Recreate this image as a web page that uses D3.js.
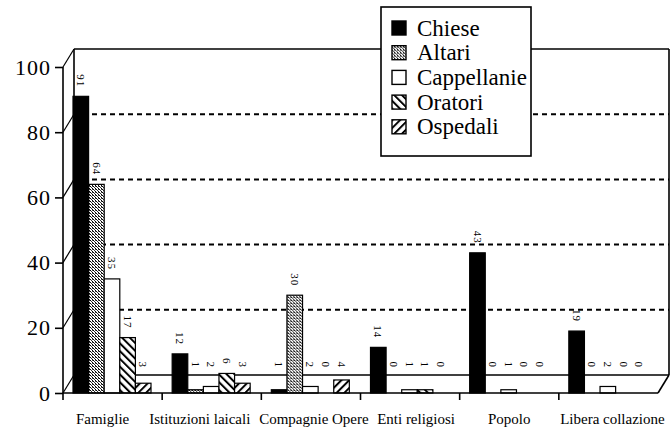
<!DOCTYPE html>
<html>
<head>
<meta charset="utf-8">
<script src="https://cdn.jsdelivr.net/npm/d3@7"></script>
<style>
  body { margin: 0; background: #fff; }
  svg text { font-family: "Liberation Serif", "DejaVu Serif", serif !important; fill: #000; }
</style>
</head>
<body>
<svg id="chart" width="672" height="434"></svg>
<script>
var categories = ["Famiglie", "Istituzioni laicali", "Compagnie Opere", "Enti religiosi", "Popolo", "Libera collazione"];
var seriesNames = ["Chiese", "Altari", "Cappellanie", "Oratori", "Ospedali"];
var chiese      = [91, 12, 1, 14, 43, 19];
var altari      = [64, 1, 30, 0, 0, 0];
var cappellanie = [35, 2, 2, 1, 1, 2];
var oratori     = [17, 6, 0, 1, 0, 0];
var ospedali    = [3, 3, 4, 0, 0, 0];
var yTicks      = [0, 20, 40, 60, 80, 100];

var seriesValues = [chiese, altari, cappellanie, oratori, ospedali];
var fills = ["#000", "url(#pAltari)", "#fff", "url(#pOratori)", "url(#pOspedali)"];

var depth = {x: 11, y: -18};
// category labels in the original are not quite centred under their slots
var labelNudge = [-10, -12, 3, 6, 0, 4];

var svg = d3.select("#chart");

// patterns
var defs = svg.append("defs");
var pa = defs.append("pattern").attr("id", "pAltari")
    .attr("width", 3).attr("height", 3).attr("patternUnits", "userSpaceOnUse");
pa.append("rect").attr("width", 3).attr("height", 3).attr("fill", "#fff");
pa.append("rect").attr("width", 1).attr("height", 1).attr("fill", "#000");
pa.append("rect").attr("x", 1).attr("y", 1).attr("width", 1).attr("height", 1).attr("fill", "#333");
pa.append("rect").attr("x", 2).attr("y", 2).attr("width", 1).attr("height", 1).attr("fill", "#000");
pa.append("rect").attr("x", 2).attr("y", 0).attr("width", 1).attr("height", 1).attr("fill", "#555");

function stripes(id, angle) {
    var p = defs.append("pattern").attr("id", id)
        .attr("width", 5.5).attr("height", 10)
        .attr("patternUnits", "userSpaceOnUse")
        .attr("patternTransform", "rotate(" + angle + ")");
    p.append("rect").attr("width", 5.5).attr("height", 10).attr("fill", "#fff");
    p.append("line").attr("x1", 1).attr("x2", 1).attr("y1", 0).attr("y2", 10)
        .attr("stroke", "#000").attr("stroke-width", 2);
}
stripes("pOratori", -45);
stripes("pOspedali", 45);

var x = d3.scaleBand()
    .domain(categories)
    .range([63, 658]);

var x1 = d3.scaleBand()
    .domain(seriesNames)
    .range([10, 88]);

var y = d3.scaleLinear()
    .domain([0, 100])
    .range([393, 67]);

var x0 = x.range()[0], xEnd = x.range()[1];

// walls
var walls = svg.append("g").attr("stroke", "#000").attr("fill", "none");

walls.selectAll(".grid")
    .data(yTicks.filter(function(d) { return d > 0 && d < 100; }))
    .enter().append("line")
    .attr("x1", x0 + depth.x).attr("x2", xEnd + depth.x)
    .attr("y1", function(d) { return y(d) + depth.y; })
    .attr("y2", function(d) { return y(d) + depth.y; })
    .attr("stroke-width", 2)
    .attr("stroke-dasharray", "5,4");

walls.selectAll(".side")
    .data(yTicks)
    .enter().append("line")
    .attr("x1", x0).attr("x2", x0 + depth.x)
    .attr("y1", function(d) { return y(d); })
    .attr("y2", function(d) { return y(d) + depth.y; })
    .attr("stroke-width", 1.2);

walls.selectAll(".edge")
    .data([
        [x0 + depth.x, y(0) + depth.y, xEnd + depth.x, y(0) + depth.y],
        [x0 + depth.x, y(100) + depth.y, xEnd + depth.x, y(100) + depth.y],
        [x0 + depth.x, y(100) + depth.y, x0 + depth.x, y(0) + depth.y],
        [xEnd + depth.x, y(100) + depth.y, xEnd + depth.x, y(0) + depth.y],
        [xEnd + depth.x, y(0) + depth.y, xEnd, y(0)]
    ])
    .enter().append("line")
    .attr("x1", function(d) { return d[0]; })
    .attr("y1", function(d) { return d[1]; })
    .attr("x2", function(d) { return d[2]; })
    .attr("y2", function(d) { return d[3]; })
    .attr("stroke-width", 1.6);

// bars
var group = svg.selectAll(".category")
    .data(categories)
    .enter().append("g")
    .attr("class", "category")
    .attr("transform", function(d) { return "translate(" + x(d) + ",0)"; });

var bar = group.selectAll(".bar")
    .data(function(d, i) {
        return seriesNames.map(function(s, j) { return {series: s, j: j, value: seriesValues[j][i]}; });
    })
    .enter().append("g")
    .attr("class", "bar");

bar.filter(function(d) { return d.value > 0; })
    .append("rect")
    .attr("x", function(d) { return x1(d.series); })
    .attr("width", x1.bandwidth())
    .attr("y", function(d) { return y(d.value); })
    .attr("height", function(d) { return y(0) - y(d.value); })
    .attr("fill", function(d) { return fills[d.j]; })
    .attr("stroke", "#000")
    .attr("stroke-width", 1.2);

bar.append("text")
    .attr("transform", function(d) {
        var bx = x1(d.series) + x1.bandwidth() / 2;
        var by = Math.min(y(d.value) - 9, 368);
        return "translate(" + bx + "," + by + ") rotate(90)";
    })
    .attr("dy", "0.35em")
    .attr("text-anchor", "end")
    .style("font-size", "11px")
    .style("letter-spacing", "1px")
    .text(function(d) { return d.value; });

// front axes
var front = svg.append("g").attr("stroke", "#000").attr("stroke-width", 1.6);
front.append("line").attr("x1", x0).attr("x2", x0).attr("y1", y(100)).attr("y2", y(0) + 7);
front.append("line").attr("x1", x0).attr("x2", xEnd).attr("y1", y(0)).attr("y2", y(0));

var yAxis = svg.append("g")
    .attr("transform", "translate(" + x0 + ",0)")
    .call(d3.axisLeft(y).tickValues(yTicks).tickSize(8).tickPadding(4));
yAxis.select(".domain").remove();
yAxis.attr("font-family", null);
yAxis.selectAll("line").attr("stroke-width", 1.6);
yAxis.selectAll("text")
    .style("font-size", "22px")
    .style("letter-spacing", "1px");

var xAxis = svg.append("g")
    .attr("transform", "translate(0," + y(0) + ")")
    .call(d3.axisBottom(x).tickSize(0).tickPadding(20));
xAxis.select(".domain").remove();
xAxis.attr("font-family", null);
xAxis.selectAll("text")
    .attr("dx", function(d, i) { return labelNudge[i]; })
    .style("font-size", "15px");

svg.append("g").selectAll("line")
    .data(categories.slice(1))
    .enter().append("line")
    .attr("x1", function(d) { return x(d); })
    .attr("x2", function(d) { return x(d); })
    .attr("y1", y(0)).attr("y2", y(0) + 7)
    .attr("stroke", "#000").attr("stroke-width", 1.6);

// legend
var legend = svg.append("g").attr("transform", "translate(381,7)");
legend.append("rect")
    .attr("width", 150).attr("height", 149)
    .attr("fill", "#fff").attr("stroke", "#000").attr("stroke-width", 1.6);

var item = legend.selectAll(".item")
    .data(seriesNames)
    .enter().append("g")
    .attr("class", "item")
    .attr("transform", function(d, i) { return "translate(11," + (21 + i * 24.7) + ")"; });

item.append("rect")
    .attr("y", -7).attr("width", 14).attr("height", 14)
    .attr("fill", function(d, i) { return fills[i]; })
    .attr("stroke", "#000").attr("stroke-width", 1.4);

item.append("text")
    .attr("x", 25).attr("dy", "0.33em")
    .style("font-size", "23px")
    .text(function(d) { return d; });
</script>
</body>
</html>
